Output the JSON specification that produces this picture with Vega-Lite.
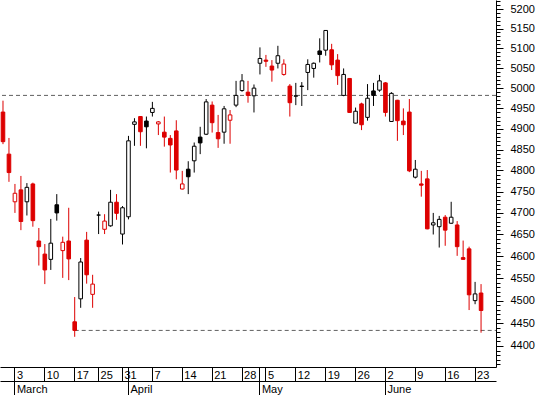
{
  "$schema": "https://vega.github.io/schema/vega-lite/v6.json",
  "width": 496,
  "height": 367,
  "autosize": {"type": "none"},
  "padding": {"left": 0, "top": 0, "right": 46, "bottom": 28},
  "background": "white",
  "config": {
    "view": {"stroke": null},
    "font": "Liberation Sans",
    "axis": {"labelFont": "Liberation Sans", "labelFontSize": 11, "labelColor": "#000000", "domainColor": "#000000", "tickColor": "#000000", "domainWidth": 1, "tickWidth": 1, "grid": false, "title": null}
  },
  "datasets": {
    "candles": [
      {"d": "2008-02-28", "o": 4941, "h": 4969, "l": 4863, "c": 4869, "t": "down"},
      {"d": "2008-02-29", "o": 4839, "h": 4878, "l": 4773, "c": 4795, "t": "down"},
      {"d": "2008-03-03", "o": 4726, "h": 4768, "l": 4700, "c": 4746, "t": "down"},
      {"d": "2008-03-04", "o": 4754, "h": 4787, "l": 4660, "c": 4680, "t": "down"},
      {"d": "2008-03-05", "o": 4726, "h": 4770, "l": 4694, "c": 4760, "t": "up"},
      {"d": "2008-03-06", "o": 4768, "h": 4771, "l": 4668, "c": 4682, "t": "down"},
      {"d": "2008-03-07", "o": 4635, "h": 4665, "l": 4579, "c": 4622, "t": "down"},
      {"d": "2008-03-10", "o": 4605, "h": 4628, "l": 4537, "c": 4569, "t": "down"},
      {"d": "2008-03-11", "o": 4593, "h": 4686, "l": 4569, "c": 4630, "t": "up"},
      {"d": "2008-03-12", "o": 4719, "h": 4744, "l": 4682, "c": 4700, "t": "up"},
      {"d": "2008-03-13", "o": 4613, "h": 4645, "l": 4551, "c": 4632, "t": "down"},
      {"d": "2008-03-14", "o": 4635, "h": 4712, "l": 4546, "c": 4594, "t": "down"},
      {"d": "2008-03-17", "o": 4453, "h": 4508, "l": 4420, "c": 4434, "t": "down"},
      {"d": "2008-03-18", "o": 4504, "h": 4596, "l": 4484, "c": 4587, "t": "up"},
      {"d": "2008-03-19", "o": 4637, "h": 4656, "l": 4538, "c": 4558, "t": "down"},
      {"d": "2008-03-20", "o": 4514, "h": 4558, "l": 4484, "c": 4537, "t": "down"},
      {"d": "2008-03-25", "o": 4695, "h": 4703, "l": 4651, "c": 4695, "t": "up"},
      {"d": "2008-03-26", "o": 4662, "h": 4697, "l": 4651, "c": 4681, "t": "down"},
      {"d": "2008-03-27", "o": 4670, "h": 4754, "l": 4668, "c": 4725, "t": "up"},
      {"d": "2008-03-28", "o": 4725, "h": 4744, "l": 4684, "c": 4699, "t": "down"},
      {"d": "2008-03-31", "o": 4651, "h": 4716, "l": 4627, "c": 4712, "t": "up"},
      {"d": "2008-04-01", "o": 4691, "h": 4883, "l": 4685, "c": 4871, "t": "up"},
      {"d": "2008-04-02", "o": 4911, "h": 4926, "l": 4859, "c": 4917, "t": "up"},
      {"d": "2008-04-03", "o": 4930, "h": 4931, "l": 4859, "c": 4893, "t": "down"},
      {"d": "2008-04-04", "o": 4919, "h": 4930, "l": 4853, "c": 4905, "t": "up"},
      {"d": "2008-04-07", "o": 4940, "h": 4966, "l": 4930, "c": 4950, "t": "up"},
      {"d": "2008-04-08", "o": 4912, "h": 4919, "l": 4885, "c": 4917, "t": "down"},
      {"d": "2008-04-09", "o": 4892, "h": 4930, "l": 4857, "c": 4880, "t": "down"},
      {"d": "2008-04-10", "o": 4877, "h": 4885, "l": 4795, "c": 4861, "t": "down"},
      {"d": "2008-04-11", "o": 4895, "h": 4921, "l": 4779, "c": 4801, "t": "down"},
      {"d": "2008-04-14", "o": 4756, "h": 4799, "l": 4755, "c": 4768, "t": "down"},
      {"d": "2008-04-15", "o": 4803, "h": 4822, "l": 4744, "c": 4785, "t": "up"},
      {"d": "2008-04-16", "o": 4823, "h": 4867, "l": 4795, "c": 4858, "t": "up"},
      {"d": "2008-04-17", "o": 4880, "h": 4905, "l": 4839, "c": 4866, "t": "up"},
      {"d": "2008-04-18", "o": 4887, "h": 4973, "l": 4885, "c": 4966, "t": "up"},
      {"d": "2008-04-21", "o": 4958, "h": 4967, "l": 4891, "c": 4915, "t": "down"},
      {"d": "2008-04-22", "o": 4891, "h": 4934, "l": 4854, "c": 4876, "t": "down"},
      {"d": "2008-04-23", "o": 4892, "h": 4956, "l": 4864, "c": 4949, "t": "up"},
      {"d": "2008-04-24", "o": 4921, "h": 4946, "l": 4864, "c": 4934, "t": "down"},
      {"d": "2008-04-25", "o": 4958, "h": 5018, "l": 4953, "c": 4982, "t": "up"},
      {"d": "2008-04-28", "o": 4994, "h": 5035, "l": 4991, "c": 5018, "t": "up"},
      {"d": "2008-04-29", "o": 4990, "h": 5018, "l": 4964, "c": 4982, "t": "down"},
      {"d": "2008-04-30", "o": 4981, "h": 5009, "l": 4940, "c": 5000, "t": "up"},
      {"d": "2008-05-02", "o": 5062, "h": 5102, "l": 5034, "c": 5074, "t": "up"},
      {"d": "2008-05-05", "o": 5070, "h": 5083, "l": 5053, "c": 5067, "t": "down"},
      {"d": "2008-05-06", "o": 5055, "h": 5070, "l": 5016, "c": 5045, "t": "down"},
      {"d": "2008-05-07", "o": 5062, "h": 5106, "l": 5049, "c": 5081, "t": "up"},
      {"d": "2008-05-08", "o": 5034, "h": 5072, "l": 5031, "c": 5060, "t": "down"},
      {"d": "2008-05-09", "o": 5005, "h": 5010, "l": 4930, "c": 4964, "t": "down"},
      {"d": "2008-05-12", "o": 4980, "h": 5013, "l": 4958, "c": 4981, "t": "up"},
      {"d": "2008-05-13", "o": 5004, "h": 5015, "l": 4956, "c": 5005, "t": "up"},
      {"d": "2008-05-14", "o": 5039, "h": 5072, "l": 4995, "c": 5059, "t": "up"},
      {"d": "2008-05-15", "o": 5049, "h": 5064, "l": 5026, "c": 5062, "t": "up"},
      {"d": "2008-05-16", "o": 5093, "h": 5125, "l": 5064, "c": 5084, "t": "up"},
      {"d": "2008-05-19", "o": 5095, "h": 5146, "l": 5081, "c": 5145, "t": "up"},
      {"d": "2008-05-20", "o": 5096, "h": 5111, "l": 5045, "c": 5058, "t": "down"},
      {"d": "2008-05-21", "o": 5070, "h": 5085, "l": 5008, "c": 5031, "t": "down"},
      {"d": "2008-05-22", "o": 4982, "h": 5049, "l": 4980, "c": 5034, "t": "up"},
      {"d": "2008-05-23", "o": 5024, "h": 5025, "l": 4939, "c": 4940, "t": "down"},
      {"d": "2008-05-26", "o": 4914, "h": 4952, "l": 4913, "c": 4943, "t": "up"},
      {"d": "2008-05-27", "o": 4961, "h": 4964, "l": 4897, "c": 4910, "t": "down"},
      {"d": "2008-05-28", "o": 4928, "h": 5010, "l": 4920, "c": 4975, "t": "up"},
      {"d": "2008-05-29", "o": 4993, "h": 5013, "l": 4956, "c": 4982, "t": "up"},
      {"d": "2008-05-30", "o": 4995, "h": 5033, "l": 4991, "c": 5018, "t": "up"},
      {"d": "2008-06-02", "o": 5013, "h": 5015, "l": 4930, "c": 4940, "t": "down"},
      {"d": "2008-06-03", "o": 4918, "h": 4990, "l": 4917, "c": 4987, "t": "up"},
      {"d": "2008-06-04", "o": 4970, "h": 4971, "l": 4871, "c": 4920, "t": "down"},
      {"d": "2008-06-05", "o": 4919, "h": 4950, "l": 4885, "c": 4910, "t": "down"},
      {"d": "2008-06-06", "o": 4941, "h": 4973, "l": 4796, "c": 4799, "t": "down"},
      {"d": "2008-06-09", "o": 4784, "h": 4825, "l": 4781, "c": 4803, "t": "up"},
      {"d": "2008-06-10", "o": 4768, "h": 4799, "l": 4738, "c": 4765, "t": "down"},
      {"d": "2008-06-11", "o": 4780, "h": 4801, "l": 4662, "c": 4663, "t": "down"},
      {"d": "2008-06-12", "o": 4672, "h": 4700, "l": 4650, "c": 4677, "t": "up"},
      {"d": "2008-06-13", "o": 4668, "h": 4693, "l": 4620, "c": 4685, "t": "up"},
      {"d": "2008-06-16", "o": 4690, "h": 4695, "l": 4624, "c": 4660, "t": "down"},
      {"d": "2008-06-17", "o": 4676, "h": 4726, "l": 4675, "c": 4690, "t": "up"},
      {"d": "2008-06-18", "o": 4672, "h": 4681, "l": 4601, "c": 4622, "t": "down"},
      {"d": "2008-06-19", "o": 4597, "h": 4636, "l": 4592, "c": 4593, "t": "down"},
      {"d": "2008-06-20", "o": 4617, "h": 4622, "l": 4479, "c": 4513, "t": "down"},
      {"d": "2008-06-23", "o": 4500, "h": 4542, "l": 4492, "c": 4515, "t": "up"},
      {"d": "2008-06-24", "o": 4517, "h": 4537, "l": 4429, "c": 4478, "t": "down"}
    ],
    "topLevel": [{"level": 4982}],
    "lowLevel": [{"d": "2008-03-17", "level": 4434}]
  },
  "resolve": {"axis": {"x": "independent", "y": "independent"}},
  "layer": [
    {
      "data": {"name": "topLevel"},
      "mark": {"type": "rule", "stroke": "#606060", "strokeWidth": 1, "strokeDash": [4, 3]},
      "encoding": {
        "y": {"field": "level", "type": "quantitative", "scale": {"type": "log", "domain": [4354.3, 5223.3], "nice": false, "zero": false}, "axis": null}
      }
    },
    {
      "data": {"name": "lowLevel"},
      "mark": {"type": "rule", "stroke": "#606060", "strokeWidth": 1, "strokeDash": [4, 3]},
      "encoding": {
        "x": {"field": "d", "type": "ordinal", "axis": null},
        "x2": {"value": "width"},
        "y": {"field": "level", "type": "quantitative", "axis": null}
      }
    },
    {
      "data": {"name": "candles"},
      "mark": {"type": "rule", "strokeWidth": 1},
      "encoding": {
        "x": {
          "field": "d", "type": "ordinal",
          "scale": {"type": "band", "paddingInner": 0, "paddingOuter": 0, "domain": ["2008-02-28","2008-02-29","2008-03-03","2008-03-04","2008-03-05","2008-03-06","2008-03-07","2008-03-10","2008-03-11","2008-03-12","2008-03-13","2008-03-14","2008-03-17","2008-03-18","2008-03-19","2008-03-20","2008-03-25","2008-03-26","2008-03-27","2008-03-28","2008-03-31","2008-04-01","2008-04-02","2008-04-03","2008-04-04","2008-04-07","2008-04-08","2008-04-09","2008-04-10","2008-04-11","2008-04-14","2008-04-15","2008-04-16","2008-04-17","2008-04-18","2008-04-21","2008-04-22","2008-04-23","2008-04-24","2008-04-25","2008-04-28","2008-04-29","2008-04-30","2008-05-02","2008-05-05","2008-05-06","2008-05-07","2008-05-08","2008-05-09","2008-05-12","2008-05-13","2008-05-14","2008-05-15","2008-05-16","2008-05-19","2008-05-20","2008-05-21","2008-05-22","2008-05-23","2008-05-26","2008-05-27","2008-05-28","2008-05-29","2008-05-30","2008-06-02","2008-06-03","2008-06-04","2008-06-05","2008-06-06","2008-06-09","2008-06-10","2008-06-11","2008-06-12","2008-06-13","2008-06-16","2008-06-17","2008-06-18","2008-06-19","2008-06-20","2008-06-23","2008-06-24","2008-06-25","2008-06-26"]},
          "axis": {
            "orient": "bottom",
            "values": ["2008-03-03","2008-03-10","2008-03-17","2008-03-25","2008-03-31","2008-04-01","2008-04-07","2008-04-14","2008-04-21","2008-04-28","2008-05-02","2008-05-05","2008-05-12","2008-05-19","2008-05-26","2008-06-02","2008-06-09","2008-06-16","2008-06-23"],
            "labelExpr": "datum.value == '2008-04-01' || datum.value == '2008-05-02' ? '' : '' + toNumber(substring(datum.value, 8, 10))",
            "bandPosition": 0.5,
            "tickSize": 14,
            "labelPadding": -12,
            "labelAlign": "left",
            "labelBaseline": "top",
            "labelAngle": 0,
            "labelOffset": 2,
            "labelOverlap": false,
            "labelFlush": false,
            "labelBound": false,
            "title": null
          }
        },
        "y": {
          "field": "l", "type": "quantitative",
          "scale": {"type": "log", "domain": [4354.3, 5223.3], "nice": false, "zero": false},
          "axis": {
            "orient": "right",
            "values": [4360,4370,4380,4390,4400,4410,4420,4430,4440,4450,4460,4470,4480,4490,4500,4510,4520,4530,4540,4550,4560,4570,4580,4590,4600,4610,4620,4630,4640,4650,4660,4670,4680,4690,4700,4710,4720,4730,4740,4750,4760,4770,4780,4790,4800,4810,4820,4830,4840,4850,4860,4870,4880,4890,4900,4910,4920,4930,4940,4950,4960,4970,4980,4990,5000,5010,5020,5030,5040,5050,5060,5070,5080,5090,5100,5110,5120,5130,5140,5150,5160,5170,5180,5190,5200,5210,5220],
            "labelExpr": "datum.value % 50 === 0 ? '' + datum.value : ''",
            "tickSize": {"condition": {"test": "datum.value % 50 === 0", "value": 7}, "value": 4},
            "labelPadding": 7,
            "labelOverlap": false,
            "labelFlush": false,
            "labelBound": false,
            "title": null
          }
        },
        "y2": {"field": "h"},
        "color": {"field": "t", "type": "nominal", "scale": {"domain": ["down", "up"], "range": ["#dd0000", "#000000"]}, "legend": null}
      }
    },
    {
      "data": {"name": "candles"},
      "mark": {"type": "bar", "width": {"band": 0.6}, "strokeWidth": 1, "fillOpacity": 1},
      "encoding": {
        "x": {
          "field": "d", "type": "ordinal",
          "axis": {
            "orient": "bottom",
            "offset": 14,
            "values": ["2008-03-03","2008-04-01","2008-05-02","2008-06-02"],
            "labelExpr": "['January','February','March','April','May','June'][toNumber(substring(datum.value, 5, 7)) - 1]",
            "bandPosition": 0.5,
            "tickSize": 14,
            "labelPadding": -12,
            "labelAlign": "left",
            "labelBaseline": "top",
            "labelAngle": 0,
            "labelOffset": 2,
            "labelOverlap": false,
            "labelFlush": false,
            "labelBound": false,
            "title": null
          }
        },
        "y": {"field": "o", "type": "quantitative", "axis": null},
        "y2": {"field": "c"},
        "stroke": {"field": "t", "type": "nominal", "scale": {"domain": ["down", "up"], "range": ["#dd0000", "#000000"]}, "legend": null},
        "fill": {
          "condition": {"test": "datum.c < datum.o", "field": "t", "type": "nominal", "scale": {"domain": ["down", "up"], "range": ["#dd0000", "#000000"]}, "legend": null},
          "value": "white"
        }
      }
    }
  ]
}
